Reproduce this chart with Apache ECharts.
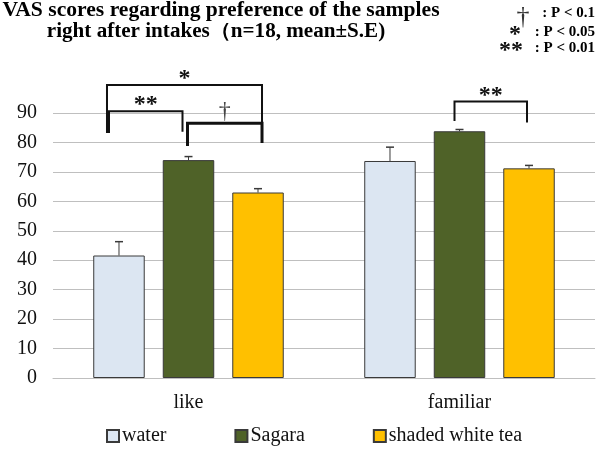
<!DOCTYPE html>
<html><head><meta charset="utf-8">
<script src="https://cdn.jsdelivr.net/npm/echarts@6/dist/echarts.min.js"></script>
<style>html,body{margin:0;padding:0;background:#fff}#c{width:600px;height:450px}</style>
</head><body><div id="c"></div>
<script>
const categories = ['like', 'familiar'];
const seriesNames = ['water', 'Sagara', 'shaded white tea'];
const waterMean = [41.6, 73.7];
const waterUpper = [46.3, 78.4];
const sagaraMean = [74.0, 83.8];
const sagaraUpper = [75.2, 84.4];
const teaMean = [63.0, 71.2];
const teaUpper = [64.3, 72.2];
const yMin = 0, yMax = 90, yInterval = 10;
const titleLines = ['VAS scores regarding preference of the samples', 'right after intakes（n=18, mean±S.E)'];
const sigSymbols = ['†', '*', '**'];
const sigTexts = [': P < 0.1', ': P < 0.05', ': P < 0.01'];
// brackets: category, from bar, to bar, top value, left drop value, right drop value, label
const brackets = [
  {cat: 0, from: 0, to: 2, top: 99.5, dropL: 83.2, dropR: 79.8, label: '*'},
  {cat: 0, from: 0, to: 1, top: 90.6, dropL: 83.2, dropR: 83.6, label: '**'},
  {cat: 0, from: 1, to: 2, top: 86.5, dropL: 78.8, dropR: 79.8, label: '†'},
  {cat: 1, from: 1, to: 2, top: 93.9, dropL: 87.3, dropR: 86.8, label: '**'}
];
const bracketStyle = [
  {dxL: -12, dxR: 4, width: 2},
  {dxL: -10, dxR: -6, width: 2},
  {dxL: -1, dxR: 4, width: 3},
  {dxL: -5, dxR: -2, width: 2}
];

const colors = ['#dce6f2', '#4f6228', '#ffc000'];
const means = [waterMean, sagaraMean, teaMean];
const uppers = [waterUpper, sagaraUpper, teaUpper];
const BAR_FRAC = 0.19, GAP_FRAC = 0.35;
const serif = '"Liberation Serif", "DejaVu Serif", serif';

function barOffset(api, idx) {
  const band = api.size([1, 0])[0];
  const bw = band * BAR_FRAC;
  return (idx - 1) * bw * (1 + GAP_FRAC);
}

const series = [];
seriesNames.forEach((n, i) => {
  series.push({
    name: n, type: 'bar', data: means[i], barWidth: (BAR_FRAC * 100) + '%', barGap: (GAP_FRAC * 100) + '%',
    itemStyle: {color: colors[i], borderColor: '#3a3a3a', borderWidth: 1},
    emphasis: {disabled: true}
  });
});
seriesNames.forEach((n, i) => {
  series.push({
    type: 'custom', silent: true, z: 5,
    data: categories.map((c, k) => [k, means[i][k], uppers[i][k]]),
    renderItem: function (params, api) {
      const off = barOffset(api, i);
      const p0 = api.coord([api.value(0), api.value(1)]);
      const p1 = api.coord([api.value(0), api.value(2)]);
      const x = p0[0] + off;
      return {type: 'group', children: [
        {type: 'line', shape: {x1: x, y1: p0[1], x2: x, y2: p1[1]}, style: {stroke: '#3a3a3a', lineWidth: 1}},
        {type: 'line', shape: {x1: x - 4, y1: p1[1], x2: x + 4, y2: p1[1]}, style: {stroke: '#3a3a3a', lineWidth: 1.5}}
      ]};
    }
  });
});
series.push({
  type: 'custom', silent: true, z: 6, clip: false,
  data: brackets.map(b => [b.cat, b.top, b.dropL, b.dropR]),
  renderItem: function (params, api) {
    const b = brackets[params.dataIndex];
    const s = bracketStyle[params.dataIndex];
    const c = api.coord([b.cat, b.top]);
    const xL = c[0] + barOffset(api, b.from) + s.dxL;
    const xR = c[0] + barOffset(api, b.to) + s.dxR;
    const yT = c[1];
    const yL = api.coord([b.cat, b.dropL])[1];
    const yR = api.coord([b.cat, b.dropR])[1];
    const isDagger = b.label === '†';
    return {type: 'group', children: [
      {type: 'polyline', shape: {points: [[xL, yL], [xL, yT], [xR, yT], [xR, yR]]},
        style: {stroke: '#111', lineWidth: s.width, fill: null}},
      {type: 'text', x: (xL + xR) / 2, y: isDagger ? yT - 12 : yT + 6,
        style: {text: b.label, font: isDagger ? '24px ' + serif : 'bold 24px ' + serif,
          fill: isDagger ? '#444' : '#111', textAlign: 'center', textVerticalAlign: isDagger ? 'middle' : 'bottom'}}
    ]};
  }
});

const graphics = [
  {type: 'text', x: 221, y: 11, scaleX: 1.08, style: {text: titleLines[0], font: 'bold 20px ' + serif, fill: '#000', textAlign: 'center', textVerticalAlign: 'middle'}},
  {type: 'text', x: 216, y: 32, scaleX: 1.055, style: {text: titleLines[1], font: 'bold 20px ' + serif, fill: '#000', textAlign: 'center', textVerticalAlign: 'middle'}}
];
const symX = [523, 515, 511];
const symY = [17, 35, 51];
const txtY = [13, 32, 48];
sigSymbols.forEach((s, k) => {
  graphics.push({type: 'text', x: symX[k], y: symY[k], style: {text: s, font: (k === 0 ? '26px ' : 'bold 24px ') + serif, fill: k === 0 ? '#333' : '#111', textAlign: 'center', textVerticalAlign: 'middle'}});
  graphics.push({type: 'text', x: 595, y: txtY[k], style: {text: sigTexts[k], font: 'bold 15px ' + serif, fill: '#000', textAlign: 'right', textVerticalAlign: 'middle'}});
});

const chart = echarts.init(document.getElementById('c'), null, {renderer: 'canvas'});
chart.setOption({
  animation: false,
  grid: {left: 53, right: 5, top: 113, bottom: 72, containLabel: false},
  xAxis: {
    type: 'category', data: categories,
    axisTick: {show: false},
    axisLine: {lineStyle: {color: '#bfbfbf', width: 1}},
    axisLabel: {color: '#111', fontFamily: serif, fontSize: 20, margin: 15}
  },
  yAxis: {
    type: 'value', min: yMin, max: yMax, interval: yInterval,
    axisLine: {show: false}, axisTick: {show: false},
    splitLine: {lineStyle: {color: '#bfbfbf', width: 1}},
    axisLabel: {color: '#111', fontFamily: serif, fontSize: 20, margin: 16}
  },
  legend: {
    data: seriesNames, top: 426, left: 106, itemWidth: 12, itemHeight: 12, itemGap: 68,
    icon: 'rect', padding: 0,
    textStyle: {color: '#111', fontFamily: serif, fontSize: 20, padding: [0, 0, 0, -2]}
  },
  graphic: graphics,
  series: series
});
</script></body></html>
